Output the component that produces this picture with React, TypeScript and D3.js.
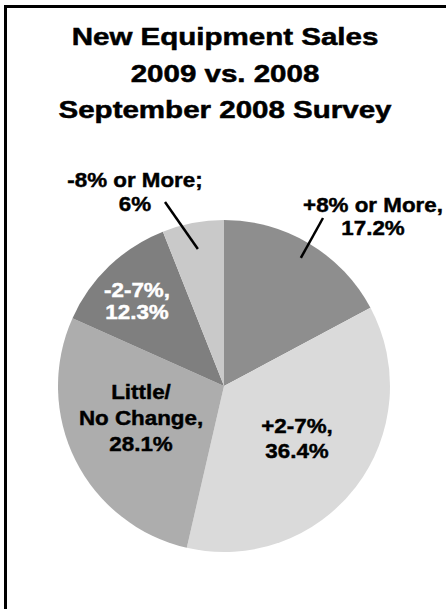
import React from "react";
import * as d3 from "d3";

const categories = ["+8% or More", "+2-7%", "Little/No Change", "-2-7%", "-8% or More"];
const values = [17.2, 36.4, 28.1, 12.3, 6];
const colors = ["#8e8e8e", "#dadada", "#adadad", "#7f7f7f", "#c9c9c9"];
const labelLines = [
  ["+8% or More,", "17.2%"],
  ["+2-7%,", "36.4%"],
  ["Little/", "No Change,", "28.1%"],
  ["-2-7%,", "12.3%"],
  ["-8% or More;", "6%"],
];
const labelColors = ["#000", "#000", "#000", "#fff", "#000"];
const titleLines = ["New Equipment Sales", "2009 vs. 2008", "September 2008 Survey"];

const W = 446;
const H = 609;
const cx = 224;
const cy = 386;
const R = 166;
const FONT = "'Liberation Sans', Arial, sans-serif";

// label layout: anchor (relative to pie center), line height
const labelLayout = [
  { x: 149, y: -174, lh: 23 },
  { x: 73, y: 47, lh: 25 },
  { x: -83, y: 13, lh: 26 },
  { x: -87, y: -89, lh: 22 },
  { x: -89, y: -199, lh: 24 },
];
// leader lines: [inner radius factor, outer point offset relative to center]
const leaders: Record<number, { inner: number; outer: [number, number] }> = {
  0: { inner: 0.9, outer: [99, -168] },
  4: { inner: 0.84, outer: [-59, -184] },
};

export default function App() {
  const pie = d3.pie<number>().sort(null).value((d) => d);
  const arcs = pie(values);
  const arc = d3.arc<d3.PieArcDatum<number>>().innerRadius(0).outerRadius(R);

  return (
    <div style={{ position: "absolute", left: 0, top: 0 }}>
      <svg width={W} height={H} viewBox={`0 0 ${W} ${H}`} style={{ display: "block", background: "#fff" }}>
        <rect x={0} y={0} width={W} height={H} fill="#fff" />
        {/* frame */}
        <line x1={5.5} y1={5} x2={5.5} y2={H} stroke="#000" strokeWidth={3} />
        <line x1={4} y1={6.5} x2={W} y2={6.5} stroke="#000" strokeWidth={3} />
        {/* title */}
        <g fontFamily={FONT} fontWeight="bold" fontSize={24} textAnchor="middle" fill="#000" stroke="#000" strokeWidth={0.5}>
          {titleLines.map((t, i) => (
            <text key={t} transform={`translate(225,${45 + i * 36.5}) scale(1.23,1)`}>
              {t}
            </text>
          ))}
        </g>
        <g transform={`translate(${cx},${cy})`}>
          {arcs.map((a, i) => (
            <path key={categories[i]} d={arc(a) || ""} fill={colors[i]} />
          ))}
          {arcs.map((a, i) => {
            const ld = leaders[i];
            if (!ld) return null;
            const mid = (a.startAngle + a.endAngle) / 2;
            const r = R * ld.inner;
            const x1 = Math.sin(mid) * r;
            const y1 = -Math.cos(mid) * r;
            return (
              <line
                key={"l" + i}
                x1={x1}
                y1={y1}
                x2={ld.outer[0]}
                y2={ld.outer[1]}
                stroke="#000"
                strokeWidth={2.5}
              />
            );
          })}
          <g fontFamily={FONT} fontWeight="bold" fontSize={21} textAnchor="middle">
            {labelLines.map((lines, i) => (
              <text
                key={"t" + i}
                fill={labelColors[i]}
                stroke={labelColors[i]}
                strokeWidth={0.45}
                transform={`translate(${labelLayout[i].x},${labelLayout[i].y}) scale(1.065,1)`}
              >
                {lines.map((ln, j) => (
                  <tspan key={j} x={0} y={j * labelLayout[i].lh}>
                    {ln}
                  </tspan>
                ))}
              </text>
            ))}
          </g>
        </g>
      </svg>
    </div>
  );
}
